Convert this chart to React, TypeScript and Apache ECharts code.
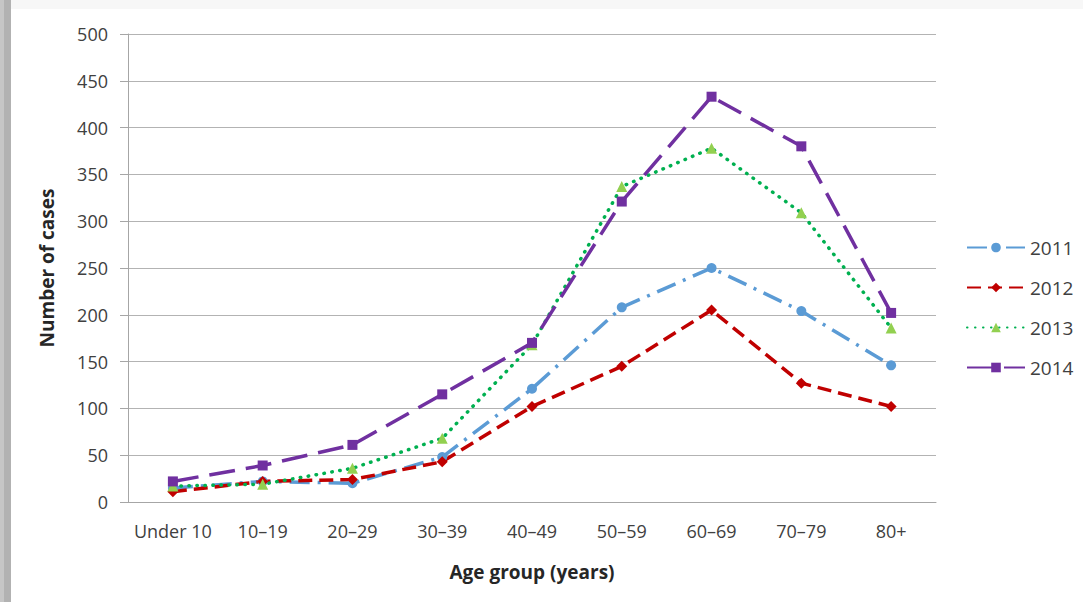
import React, { useEffect, useRef } from "react";
import * as echarts from "echarts";

const categories = ["Under 10", "10\u201319", "20\u201329", "30\u201339", "40\u201349", "50\u201359", "60\u201369", "70\u201379", "80+"];
const s2011 = [15, 22, 20, 48, 121, 208, 250, 204, 146];
const s2012 = [11, 22, 24, 43, 102, 145, 205, 127, 102];
const s2013 = [17, 19, 36, 68, 168, 337, 378, 309, 186];
const s2014 = [22, 39, 61, 115, 170, 321, 433, 380, 202];
const yTicks = { min: 0, max: 500, interval: 50 };

const FONT = "'Open Sans', Lato, sans-serif";

export default function App() {
  const ref = useRef<HTMLDivElement>(null);
  useEffect(() => {
    if (!ref.current) return;
    const chart = echarts.init(ref.current, null, { renderer: "svg" });
    const mk = (name: string, data: number[], color: string, markerColor: string, symbol: string, size: number, dash: number[], cap: string) => ({
      name,
      type: "line",
      data,
      symbol,
      symbolSize: size,
      itemStyle: { color: markerColor },
      lineStyle: { color, width: 3.5, type: dash, cap },
    });
    chart.setOption({
      animation: false,
      backgroundColor: "#ffffff",
      textStyle: { fontFamily: FONT },
      graphic: [
        { type: "rect", shape: { x: 0, y: 0, width: 1083, height: 9 }, style: { fill: "#f7f7f7" }, silent: true, z: -10 },
        { type: "rect", shape: { x: 0, y: 0, width: 11, height: 602 }, style: { fill: "#b2b2b2" }, silent: true, z: -9 },
        { type: "rect", shape: { x: 0, y: 0, width: 4, height: 602 }, style: { fill: "#c6c6c6" }, silent: true, z: -8 },
      ],
      grid: { left: 128, right: 147, top: 34, bottom: 100 },
      legend: {
        orient: "vertical",
        left: 961,
        top: 233,
        itemGap: 21,
        itemWidth: 58,
        itemHeight: 12,
        textStyle: { fontSize: 19, color: "#404040", fontFamily: FONT },
        data: ["2011", "2012", "2013", "2014"],
      },
      xAxis: {
        type: "category",
        data: categories,
        boundaryGap: true,
        name: "Age group (years)",
        nameLocation: "middle",
        nameGap: 60,
        nameTextStyle: { fontSize: 19, fontWeight: "bold", color: "#262626", fontFamily: FONT },
        axisLine: { lineStyle: { color: "#a6a6a6", width: 1 } },
        axisTick: { show: false },
        axisLabel: { fontSize: 18, color: "#404040", margin: 20, interval: 0, fontFamily: FONT },
      },
      yAxis: {
        type: "value",
        min: yTicks.min,
        max: yTicks.max,
        interval: yTicks.interval,
        name: "Number of cases",
        nameLocation: "middle",
        nameGap: 72,
        nameTextStyle: { fontSize: 19, fontWeight: "bold", color: "#262626", fontFamily: FONT },
        axisLine: { show: true, lineStyle: { color: "#a6a6a6", width: 1 } },
        axisTick: { show: true, length: 8, lineStyle: { color: "#a6a6a6" } },
        axisLabel: { fontSize: 18, color: "#404040", margin: 20, fontFamily: FONT },
        splitLine: { lineStyle: { color: "#b3b3b3", width: 1 } },
      },
      series: [
        mk("2011", s2011, "#5b9bd5", "#5b9bd5", "circle", 10, [20, 8, 3, 8], "butt"),
        mk("2012", s2012, "#c00000", "#c00000", "diamond", 11, [14, 7], "butt"),
        mk("2013", s2013, "#00b050", "#92d050", "triangle", 11, [0.5, 7.5], "round"),
        mk("2014", s2014, "#7030a0", "#7030a0", "rect", 10, [26, 11], "butt"),
      ],
    });
    return () => chart.dispose();
  }, []);
  return <div ref={ref} style={{ position: "fixed", left: 0, top: 0, width: 1083, height: 602 }} />;
}
